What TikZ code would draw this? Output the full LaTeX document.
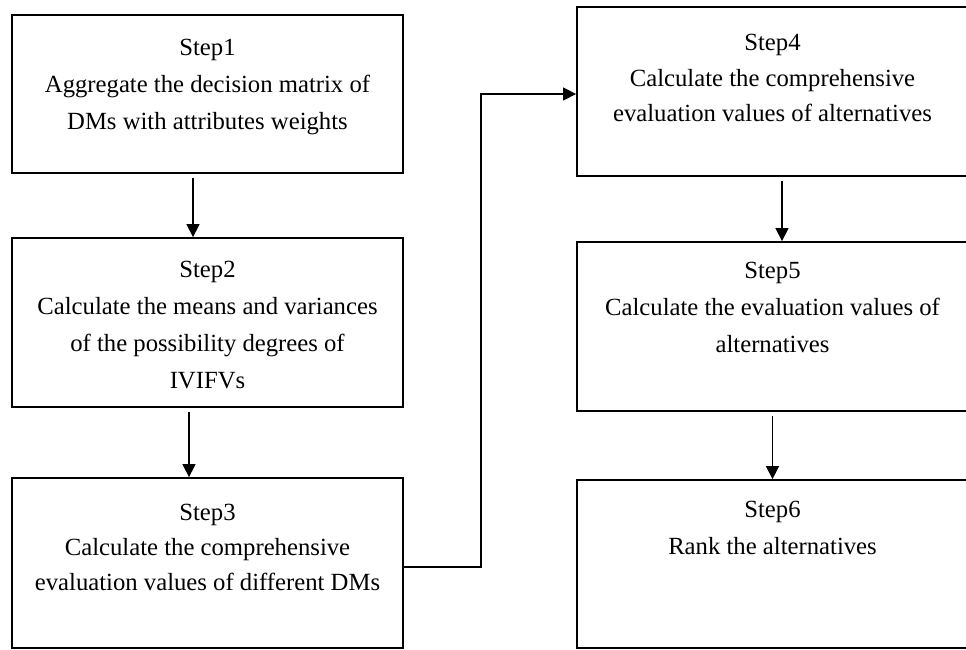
\documentclass[tikz,border=0pt]{standalone}
\usepackage{fontspec}
\setmainfont{Liberation Serif}
\usetikzlibrary{arrows.meta,calc}
\begin{document}
\begin{tikzpicture}[x=1pt,y=-1pt,
  box/.style={draw, line width=1.8pt, rectangle, inner sep=0pt, minimum width=391pt},
  txt/.style={anchor=north, align=center, inner sep=0pt},
  arr/.style={line width=1.4pt, -{Triangle[length=13pt,width=13pt]}, shorten <=4pt}]
\useasboundingbox (0,0) rectangle (966,650);
% boxes
\node[box, minimum height=158pt] (s1) at (207.5,94) {};
\node[box, minimum height=169pt] (s2) at (207.5,322.5) {};
\node[box, minimum height=170pt] (s3) at (207.5,563) {};
\node[box, minimum height=169pt] (s4) at (772.5,91.5) {};
\node[box, minimum height=169pt] (s5) at (772.5,326.5) {};
\node[box, minimum height=168pt] (s6) at (772.5,564) {};
% texts
\node[txt, font=\fontsize{24.7}{37}\selectfont] (t1) at ([yshift=-25pt]s1.north)
  {Step1\\Aggregate the decision matrix of\\DMs with attributes weights};
\node[txt, font=\fontsize{24.7}{37}\selectfont] (t2) at ([yshift=-24pt]s2.north)
  {Step2\\Calculate the means and variances\\of the possibility degrees of\\IVIFVs};
\node[txt, font=\fontsize{24.7}{35}\selectfont] (t3) at ([yshift=-27pt]s3.north)
  {Step3\\Calculate the comprehensive\\evaluation values of different DMs};
\node[txt, font=\fontsize{24.7}{35.5}\selectfont] (t4) at ([yshift=-28pt]s4.north)
  {Step4\\Calculate the comprehensive\\evaluation values of alternatives};
\node[txt, font=\fontsize{24.7}{37}\selectfont] (t5) at ([yshift=-21pt]s5.north)
  {Step5\\Calculate the evaluation values of\\alternatives};
\node[txt, font=\fontsize{24.7}{37}\selectfont] (t6) at ([yshift=-22pt]s6.north)
  {Step6\\Rank the alternatives};
% connectors
\draw[arr] ([xshift=-14.5pt]s1.south) -- ([xshift=-14.5pt]s1.south |- s2.north);
\draw[arr] ([xshift=-18.5pt]s2.south) -- ([xshift=-18.5pt]s2.south |- s3.north);
\draw[arr] ([xshift=9.5pt]s4.south) -- ([xshift=9.5pt]s4.south |- s5.north);
\draw[arr] (s5.south) -- (s6.north);
\draw[arr, shorten <=0pt] ([yshift=-4pt]s3.east) -- ++(77,0) |- ([yshift=-2.5pt]s4.west);
\end{tikzpicture}
\end{document}
